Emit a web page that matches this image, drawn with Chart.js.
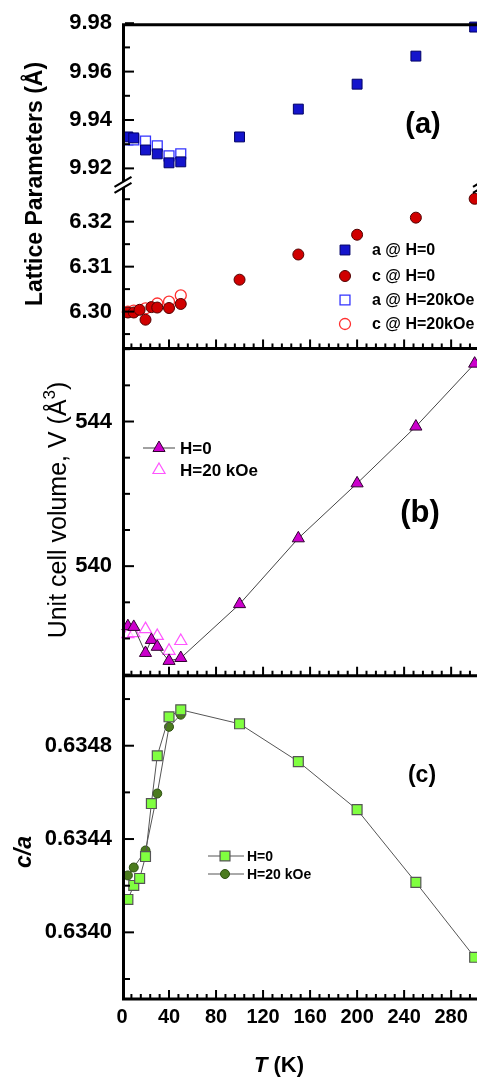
<!DOCTYPE html>
<html><head><meta charset="utf-8">
<script src="https://cdn.jsdelivr.net/npm/chart.js@4.4.0/dist/chart.umd.min.js"></script>
<style>html,body{margin:0;padding:0;background:#fff;overflow:hidden}#wrap{position:relative;width:477px;height:1077px}</style>
</head><body><div id="wrap"><canvas id="c" width="477" height="1077"></canvas></div>
<script>
// ---------- data ----------
const T_aH0 = [5,10,20,30,40,50,100,150,200,250,300];
const a_H0  = [9.9330,9.9326,9.9276,9.9260,9.9223,9.9227,9.9330,9.9445,9.9548,9.9664,9.9784];
const T_cH0 = [5,10,15,20,25,30,40,50,100,150,200,250,300];
const c_H0  = [6.2998,6.2998,6.3004,6.2982,6.3010,6.3009,6.3008,6.3017,6.3071,6.3127,6.3171,6.3209,6.3251];
const T_H20 = [5,10,20,30,40,50];
const a_H20 = [9.9318,9.9318,9.9313,9.9293,9.9252,9.9260];
const c_H20 = [6.3000,6.3002,6.3007,6.3018,6.3022,6.3036];

const T_VH0 = [5,10,20,25,30,40,50,100,150,200,250,300];
const V_H0  = [538.34,538.32,537.60,537.96,537.77,537.38,537.46,538.95,540.77,542.29,543.86,545.60];
const V_H20 = [538.12,538.15,538.26,538.07,537.66,537.93];

const T_rH0 = [5,10,15,20,25,30,40,50,100,150,200,250,300];
const r_H0  = [0.634141,0.634201,0.634231,0.634325,0.634552,0.634757,0.634924,0.634954,0.634894,0.634732,0.634526,0.634214,0.633893];
const r_H20 = [0.634244,0.634278,0.634351,0.634595,0.634881,0.634933];

// ---------- ticks ----------
const xLabels   = ['0','40','80','120','160','200','240','280'];
const xMinorStep = 8;
const aUpTicks  = [9.92,9.93,9.94,9.95,9.96,9.97,9.98];
const aUpLabels = ['9.92','9.94','9.96','9.98'];
const aLoTicks  = [6.295,6.300,6.305,6.310,6.315,6.320,6.325];
const aLoLabels = ['6.30','6.31','6.32'];
const bTicks    = [537,538,539,540,541,542,543,544,545,546];
const bLabels   = ['540','544'];
const cTicks    = [0.6338,0.6340,0.6342,0.6344,0.6346,0.6348,0.6350];
const cLabels   = ['0.6340','0.6344','0.6348'];

const FONT = '"Liberation Sans", Arial, Helvetica, sans-serif';
const zip = (xs, ys) => ys.map((y,i)=>({x:xs[i], y}));
const labelCb = labels => v => { const m = labels.find(l => Math.abs(parseFloat(l)-v) < 1e-7); return m===undefined?'':m; };

function yScale(min,max,ticks,labels,sw,w){
  return {
    type:'linear', position:'left', stack:'panels', stackWeight:sw, weight:w,
    min, max, offset:false,
    grid:{display:false, drawTicks:false}, border:{display:false},
    afterBuildTicks: s => { s.ticks = ticks.map(v=>({value:v})); },
    afterFit: s => { s.width = 122; },
    ticks:{autoSkip:false, padding:10, color:'#000', font:{family:FONT,size:22,weight:'bold'}, callback: labelCb(labels)}
  };
}

function marker(ctx, shape, x, y, r, fill, stroke, lw){
  ctx.beginPath();
  if(shape==='rect'){ const s=r*Math.SQRT1_2; ctx.rect(x-s,y-s,2*s,2*s); }
  else if(shape==='circle'){ ctx.arc(x,y,r,0,2*Math.PI); }
  else { for(let k=0;k<3;k++){ const a=k*2*Math.PI/3; const px=x+Math.sin(a)*r, py=y-Math.cos(a)*r; if(k) ctx.lineTo(px,py); else ctx.moveTo(px,py);} ctx.closePath(); }
  ctx.fillStyle=fill; ctx.fill(); ctx.lineWidth=lw; ctx.strokeStyle=stroke; ctx.stroke();
}

const deco = {
  id:'deco',
  afterDraw(chart){
    const ctx = chart.ctx, S = chart.scales, x = S.x;
    const L = chart.chartArea.left, R = chart.chartArea.right;
    ctx.save();
    ctx.strokeStyle='#000'; ctx.lineCap='butt';
    ctx.lineWidth=3;
    ctx.beginPath();
    ctx.moveTo(L+1.5, S.yAup.top); ctx.lineTo(L+1.5, S.yC.bottom);
    [S.yAup.top+1.5, S.yAlo.bottom, S.yB.bottom, S.yC.bottom-1].forEach(y=>{ctx.moveTo(L,y);ctx.lineTo(R+20,y);});
    ctx.stroke();
    ctx.lineWidth=2;
    ['yAup','yAlo','yB','yC'].forEach(id=>{
      const sc=S[id];
      sc.ticks.forEach(t=>{
        const y=sc.getPixelForValue(t.value);
        const len = t.label!=='' ? 9 : 5;
        ctx.beginPath(); ctx.moveTo(L+3,y); ctx.lineTo(L+3+len,y); ctx.stroke();
      });
    });
    [S.yAlo.bottom, S.yB.bottom, S.yC.bottom-1].forEach(b=>{
      x.ticks.forEach(t=>{
        const px=x.getPixelForValue(t.value);
        if(px<L+2) return;
        const len = t.label!=='' ? 9 : 5;
        ctx.beginPath(); ctx.moveTo(px,b); ctx.lineTo(px,b-len); ctx.stroke();
      });
    });
    const yb = S.yAup.bottom;
    [L+1.5, R+5].forEach(ax=>{
      ctx.fillStyle='#fff'; ctx.fillRect(ax-3, yb-3, 6, 6);
      ctx.lineWidth=2.2; ctx.strokeStyle='#000';
      ctx.beginPath();
      ctx.moveTo(ax-9, yb+2); ctx.lineTo(ax+8, yb-8);
      ctx.moveTo(ax-9, yb+8); ctx.lineTo(ax+8, yb-2);
      ctx.stroke();
    });
    ctx.fillStyle='#000';
    const rot = (txt, cx, cy, font) => { ctx.save(); ctx.translate(cx,cy); ctx.rotate(-Math.PI/2); ctx.font=font; ctx.textAlign='center'; ctx.textBaseline='middle'; ctx.fillText(txt,0,0); ctx.restore(); };
    rot('Lattice Parameters (Å)', 36, 184, `bold 23px ${FONT}`);
    ctx.save(); ctx.translate(59,510); ctx.rotate(-Math.PI/2); ctx.textBaseline='middle'; ctx.textAlign='left';
    const f1=`25px ${FONT}`, f2=`17px ${FONT}`;
    ctx.font=f1; const p1='Unit cell volume, V (Å', p3=')';
    const w1=ctx.measureText(p1).width, w3=ctx.measureText(p3).width;
    ctx.font=f2; const w2=ctx.measureText('3').width;
    let sx=-(w1+w2+w3)/2;
    ctx.font=f1; ctx.fillText(p1,sx,0);
    ctx.font=f2; ctx.fillText('3',sx+w1,-9);
    ctx.font=f1; ctx.fillText(p3,sx+w1+w2,0);
    ctx.restore();
    rot('c/a', 25, 852, `italic bold 23px ${FONT}`);
    ctx.textBaseline='middle'; ctx.textAlign='left';
    ctx.font=`italic bold 22px ${FONT}`; const wT=ctx.measureText('T').width;
    ctx.font=`bold 22px ${FONT}`; const wK=ctx.measureText(' (K)').width;
    let tx=279-(wT+wK)/2;
    ctx.font=`italic bold 22px ${FONT}`; ctx.fillText('T',tx,1066);
    ctx.font=`bold 22px ${FONT}`; ctx.fillText(' (K)',tx+wT,1066);
    ctx.textAlign='center';
    ctx.font=`bold 29px ${FONT}`; ctx.fillText('(a)',423,125);
    ctx.font=`bold 31px ${FONT}`; ctx.fillText('(b)',420,513);
    ctx.font=`bold 23px ${FONT}`; ctx.fillText('(c)',422,776);
    ctx.textAlign='left'; ctx.font=`bold 16px ${FONT}`;
    const la=[['a @ H=0','rect',7,'#1414CC','#000066',1],['c @ H=0','circle',5.5,'#D00000','#500000',1],['a @ H=20kOe','rect',7,'#fff','#3333FF',1.3],['c @ H=20kOe','circle',5.5,'#fff','#FF3030',1.3]];
    [250,276,300,324].forEach((y,i)=>{ const e=la[i]; marker(ctx,e[1],345,y,e[2],e[3],e[4],e[5]); ctx.fillStyle='#000'; ctx.fillText(e[0],372,y+1); });
    ctx.strokeStyle='#444'; ctx.lineWidth=1; ctx.beginPath(); ctx.moveTo(143,448); ctx.lineTo(175,448); ctx.stroke();
    marker(ctx,'triangle',159,448,7,'#CC00CC','#300030',1);
    marker(ctx,'triangle',159,470,7,'#fff','#FF55FF',1.2);
    ctx.fillStyle='#000'; ctx.font=`bold 17px ${FONT}`;
    ctx.fillText('H=0',180,449); ctx.fillText('H=20 kOe',180,471);
    ctx.strokeStyle='#555'; ctx.lineWidth=1; ctx.beginPath(); ctx.moveTo(208,856); ctx.lineTo(244,856); ctx.moveTo(208,874); ctx.lineTo(244,874); ctx.stroke();
    marker(ctx,'rect',225,856,7,'#80FF40','#555',1.2);
    marker(ctx,'circle',225,874,4.5,'#4B7B1E','#2D5010',1);
    ctx.fillStyle='#000'; ctx.font=`bold 14px ${FONT}`;
    ctx.fillText('H=0',247,857); ctx.fillText('H=20 kOe',247,875);
    ctx.restore();
  }
};

const xTickVals = []; for(let v=0; v<=296; v+=xMinorStep) xTickVals.push(v);

new Chart(document.getElementById('c'), {
  type:'scatter',
  data:{datasets:[
    {yAxisID:'yAup', data:zip(T_aH0,a_H0), showLine:false, clip:false, pointStyle:'rect', pointRadius:7, pointBackgroundColor:'#1414CC', pointBorderColor:'#000066', pointBorderWidth:1},
    {yAxisID:'yAup', data:zip(T_H20,a_H20), showLine:false, clip:false, pointStyle:'rect', pointRadius:7, pointBackgroundColor:'rgba(255,255,255,0.85)', pointBorderColor:'#3333FF', pointBorderWidth:1.3},
    {yAxisID:'yAlo', data:zip(T_cH0,c_H0), showLine:false, clip:false, pointStyle:'circle', pointRadius:5.5, pointBackgroundColor:'#D00000', pointBorderColor:'#500000', pointBorderWidth:1},
    {yAxisID:'yAlo', data:zip(T_H20,c_H20), showLine:false, clip:false, pointStyle:'circle', pointRadius:5.5, pointBackgroundColor:'rgba(255,255,255,0.85)', pointBorderColor:'#FF3030', pointBorderWidth:1.3},
    {yAxisID:'yB', data:zip(T_VH0,V_H0), showLine:true, clip:false, borderColor:'#444', borderWidth:1, pointStyle:'triangle', pointRadius:7, pointBackgroundColor:'#CC00CC', pointBorderColor:'#300030', pointBorderWidth:1},
    {yAxisID:'yB', data:zip(T_H20,V_H20), showLine:false, clip:false, pointStyle:'triangle', pointRadius:7, pointBackgroundColor:'rgba(255,255,255,0.7)', pointBorderColor:'#FF55FF', pointBorderWidth:1.2},
    {yAxisID:'yC', data:zip(T_rH0,r_H0), showLine:true, clip:false, borderColor:'#555', borderWidth:1, pointStyle:'rect', pointRadius:7, pointBackgroundColor:'#80FF40', pointBorderColor:'#555', pointBorderWidth:1.2},
    {yAxisID:'yC', data:zip(T_H20,r_H20), showLine:true, clip:false, borderColor:'#555', borderWidth:1, pointStyle:'circle', pointRadius:4.5, pointBackgroundColor:'#4B7B1E', pointBorderColor:'#2D5010', pointBorderWidth:1}
  ]},
  options:{
    responsive:false, animation:false, events:[],
    layout:{autoPadding:false, padding:{top:21,left:0,right:0,bottom:0}},
    plugins:{legend:{display:false}, tooltip:{enabled:false}},
    scales:{
      x:{type:'linear', position:'bottom', min:0, max:302,
         grid:{display:false, drawTicks:false}, border:{display:false},
         afterBuildTicks: s => { s.ticks = xTickVals.map(v=>({value:v})); },
         afterFit: s => { s.height = 77; },
         ticks:{autoSkip:false, maxRotation:0, padding:5, color:'#000', font:{family:FONT,size:20,weight:'bold'}, callback: labelCb(xLabels)}},
      yC:   yScale(0.63371, 0.63510, cTicks, cLabels, 325, 1),
      yB:   yScale(536.97, 546.02, bTicks, bLabels, 328, 2),
      yAlo: yScale(6.2918, 6.3282, aLoTicks, aLoLabels, 164, 3),
      yAup: yScale(9.9132, 9.98, aUpTicks, aUpLabels, 162, 4)
    }
  },
  plugins:[deco]
});
</script>
</body></html>
